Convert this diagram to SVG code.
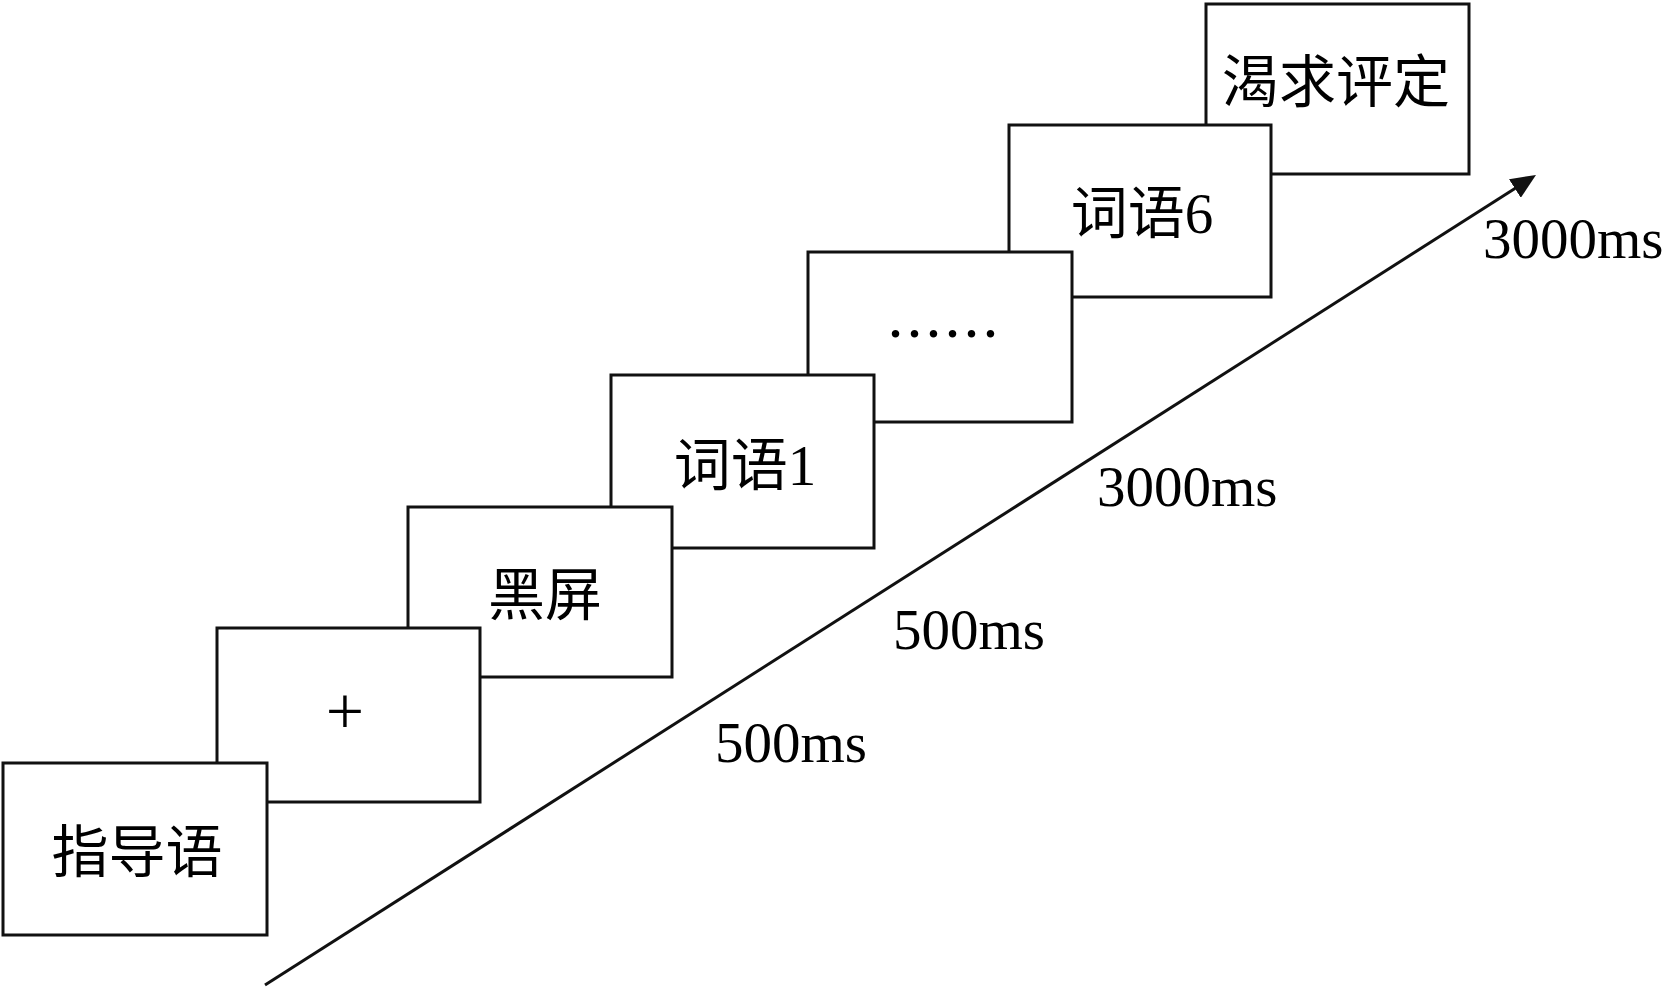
<svg xmlns="http://www.w3.org/2000/svg" width="1664" height="989" viewBox="0 0 1664 989">
<style>
  .box rect { fill: #ffffff; stroke: #111111; stroke-width: 3; }
  .lbl { font-family: "Liberation Serif", "Noto Sans CJK SC", serif; font-size: 57px; fill: #000000; }
  .cjk { font-family: "Noto Sans CJK SC", sans-serif; font-size: 57px; fill: #000000; }
  .plus { font-family: "Liberation Serif", serif; font-size: 68px; fill: #000000; }
  .mid { text-anchor: middle; }
  .conn line { stroke: #111111; stroke-width: 3; fill: none; }
</style>
<defs>
  <marker id="arrow" viewBox="0 0 25 22" refX="7" refY="11" markerWidth="25" markerHeight="22" markerUnits="userSpaceOnUse" orient="auto">
    <path d="M0,0 L25,11 L0,22 z" fill="#111111"/>
  </marker>
</defs>
<rect x="0" y="0" width="1664" height="989" fill="#ffffff"/>

<g id="node-rating" class="box">
  <rect x="1206" y="4" width="263" height="170"/>
  <text class="lbl mid" x="1336" y="102">渴求评定</text>
</g>
<g id="node-word6" class="box">
  <rect x="1009" y="125" width="262" height="172"/>
  <text class="lbl mid" x="1142" y="233">词语6</text>
</g>
<g id="node-ellipsis" class="box">
  <rect x="808" y="252" width="264" height="170"/>
  <text class="cjk mid" x="943" y="355">……</text>
</g>
<g id="node-word1" class="box">
  <rect x="611" y="375" width="263" height="173"/>
  <text class="lbl mid" x="745" y="485">词语1</text>
</g>
<g id="node-blank" class="box">
  <rect x="408" y="507" width="264" height="170"/>
  <text class="lbl mid" x="545" y="615">黑屏</text>
</g>
<g id="node-fixation" class="box">
  <rect x="217" y="628" width="263" height="174"/>
  <text class="plus mid" x="345" y="734">+</text>
</g>
<g id="node-instruction" class="box">
  <rect x="3" y="763" width="264" height="172"/>
  <text class="lbl mid" x="137" y="872">指导语</text>
</g>

<g id="connectors" class="conn">
  <line x1="265" y1="985" x2="1520.8" y2="184.7" marker-end="url(#arrow)"/>
</g>

<g id="timings">
  <text class="lbl" x="715" y="762">500ms</text>
  <text class="lbl" x="893" y="649">500ms</text>
  <text class="lbl" x="1097" y="506">3000ms</text>
  <text class="lbl" x="1483" y="258">3000ms</text>
</g>
</svg>
